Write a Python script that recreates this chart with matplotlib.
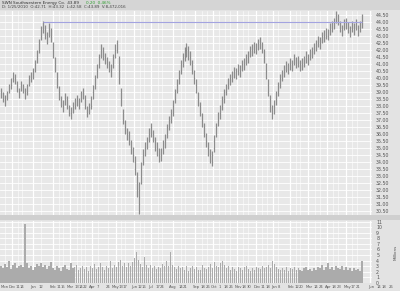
import numpy as np
import matplotlib.pyplot as plt

# daily bars (price in $, volume in millions)
high = [39.3, 39.0, 38.8, 39.1, 39.6, 40.0, 40.4, 40.3, 39.8, 39.3,
        39.8, 39.6, 39.3, 39.6, 40.2, 40.4, 40.7, 41.3, 42.0, 42.8,
        43.7, 44.1, 43.8, 43.3, 43.9, 43.6, 42.6, 41.5, 40.4, 39.4,
        38.7, 38.4, 38.9, 38.7, 38.1, 37.9, 38.3, 38.6, 38.8, 38.6,
        39.1, 39.3, 38.8, 38.0, 38.2, 38.7, 39.5, 40.2, 41.0, 41.7,
        42.4, 42.2, 41.8, 41.5, 41.2, 41.0, 41.7, 42.4, 42.7, 41.6,
        39.3, 37.8, 37.0, 36.4, 36.2, 35.6, 35.1, 34.4, 33.3, 32.6,
        34.0, 34.9, 35.4, 35.8, 36.4, 36.8, 36.3, 35.8, 35.4, 35.0,
        35.0, 35.6, 36.0, 36.7, 37.3, 37.8, 38.4, 39.2, 39.9, 40.6,
        41.3, 41.8, 42.2, 42.5, 42.3, 41.9, 41.3, 40.6, 39.9, 39.0,
        38.3, 37.5, 36.8, 36.1, 35.4, 34.9, 34.8, 35.9, 36.8, 37.6,
        38.1, 38.7, 39.2, 39.6, 40.0, 40.3, 40.5, 40.8, 40.7, 41.0,
        40.9, 41.3, 41.4, 41.7, 41.9, 42.3, 42.4, 42.6, 42.5, 42.8,
        42.9, 42.6, 42.1, 41.1, 39.9, 38.8, 38.1, 38.4, 39.1, 39.7,
        40.3, 40.6, 40.9, 41.2, 41.1, 41.4, 41.3, 41.7, 41.5, 41.6,
        41.3, 41.4, 41.6, 41.9, 41.7, 42.1, 42.2, 42.5, 42.7, 43.0,
        42.9, 43.3, 43.4, 43.6, 43.5, 43.9, 44.1, 44.3, 44.8, 44.6,
        44.1, 43.8, 44.2, 44.3, 44.0, 43.7, 44.1, 43.9, 44.2, 43.8, 44.1, 44.6]
low = [38.6, 38.3, 38.0, 38.4, 38.9, 39.2, 39.7, 39.6, 39.0, 38.6,
       39.1, 38.9, 38.5, 38.8, 39.4, 39.7, 39.9, 40.4, 41.1, 41.8,
       42.7, 43.2, 42.8, 42.4, 42.9, 42.6, 41.4, 40.4, 39.3, 38.4,
       37.9, 37.6, 38.1, 37.8, 37.3, 37.1, 37.5, 37.8, 38.0, 37.8,
       38.3, 38.5, 37.8, 37.2, 37.4, 37.8, 38.5, 39.2, 40.0, 40.7,
       41.4, 41.3, 41.0, 40.7, 40.4, 40.1, 40.7, 41.4, 41.8, 39.6,
       38.0, 36.7, 36.0, 35.6, 35.2, 34.6, 34.0, 33.1, 31.5, 30.3,
       32.4, 33.8, 34.4, 34.9, 35.4, 35.8, 35.4, 34.8, 34.4, 34.0,
       34.1, 34.6, 35.0, 35.7, 36.3, 36.8, 37.3, 38.2, 38.9, 39.6,
       40.3, 40.8, 41.2, 41.5, 41.3, 40.9, 40.3, 39.6, 38.9, 38.0,
       37.3, 36.5, 35.8, 35.1, 34.4, 33.9, 33.7, 34.7, 35.8, 36.6,
       37.1, 37.7, 38.2, 38.8, 39.2, 39.5, 39.7, 40.0, 39.9, 40.2,
       40.1, 40.5, 40.6, 40.9, 41.1, 41.5, 41.6, 41.8, 41.7, 42.0,
       42.1, 41.8, 41.1, 39.9, 38.7, 37.6, 37.1, 37.4, 38.1, 38.7,
       39.3, 39.8, 40.1, 40.4, 40.3, 40.6, 40.5, 40.9, 40.7, 40.8,
       40.5, 40.6, 40.8, 41.1, 40.9, 41.3, 41.4, 41.7, 41.9, 42.2,
       42.1, 42.5, 42.6, 42.8, 42.7, 43.1, 43.3, 43.5, 43.9, 43.8,
       43.3, 43.0, 43.4, 43.5, 43.2, 42.9, 43.3, 43.1, 43.4, 43.0, 43.3, 43.6]
volume = [3.0, 2.6, 3.4, 2.8, 3.9, 2.5, 3.2, 3.6, 2.7, 3.1,
          3.3, 2.9, 10.5, 3.5, 2.6, 3.0, 2.4, 2.8, 3.4, 3.0,
          3.6, 2.9, 3.3, 2.5, 3.1, 3.8, 2.7, 2.4, 3.0, 2.6,
          2.2, 2.8, 3.2, 2.5, 2.3, 3.6, 2.7, 2.9, 3.3, 2.4,
          2.6, 3.1, 2.5, 2.9, 2.2, 3.0, 2.7, 3.4, 2.5, 2.8,
          3.5, 2.8, 2.4, 3.0, 2.6, 3.9, 2.7, 3.2, 2.9, 3.7,
          4.2, 3.1, 3.5, 2.9, 3.6, 3.0, 3.8, 4.5, 5.5, 4.1,
          3.4, 2.8, 4.7, 3.2, 2.7, 3.3, 2.6, 3.0, 2.5, 2.9,
          2.7, 3.4, 3.0, 3.9, 3.1, 5.6, 3.3, 2.8, 2.5, 3.1,
          2.6, 2.9, 2.4, 3.0, 2.2, 2.7, 3.1, 2.5, 2.8, 2.3,
          2.4, 3.2, 2.7, 2.5, 2.9, 3.4, 2.6, 3.8, 3.0, 2.8,
          3.6, 3.9, 3.2, 2.7, 3.1, 2.4, 2.8, 2.5, 2.2, 2.9,
          2.6, 2.3, 2.8, 3.0, 2.5, 2.2, 2.7, 2.4, 2.9, 2.6,
          2.5, 3.1, 2.7, 2.9, 3.3, 2.6, 4.0, 3.4, 2.8, 2.5,
          2.3, 2.7, 2.4, 2.9, 2.2, 2.6, 2.5, 2.8, 2.3, 2.6,
          2.4, 2.1, 2.6, 2.8, 2.3, 2.5, 2.2, 2.7, 2.4, 2.9,
          2.6, 3.2, 2.4, 2.8, 3.5, 2.5, 2.9, 2.3, 3.1, 2.7,
          2.5, 3.0, 2.4, 2.8, 2.3, 2.6, 2.2, 2.7, 2.4, 2.5, 2.1, 4.0]

resistance = 44.0
resistance_start = 21

# date labels along the bottom (bar index, text)
date_pos = [2, 5.5, 8.5, 10.5, 16, 20, 26, 29, 31, 34.5, 38, 40, 42, 45.5, 48.5, 53.5,
            57.5, 60, 62, 66.5, 69.5, 71.5, 75, 78.5, 80.5, 86, 90, 92, 97.5,
            101, 103.5, 106.5, 109.5, 112.5, 115, 118.5, 121.5, 124, 128, 131, 133.5,
            136.5, 139, 145, 148, 150, 154, 157.5, 160, 163.5, 166.5, 169, 173, 176, 178.5,
            185, 189, 191.5, 195]
date_txt = ["Mon", "Dec", "11", "14", "Jan", "12", "Feb", "11", "15", "Mar", "13", "14", "22",
            "Apr", "7", "24", "May", "13", "17", "Jun", "12", "16", "Jul", "17", "24", "Aug",
            "14", "21", "Sep", "18", "26", "Oct", "1", "18", "26", "Nov", "18", "30", "Dec",
            "11", "18", "Jan", "8", "Feb", "12", "20", "Mar", "14", "24", "Apr", "18", "23",
            "May", "17", "21", "Jun", "14", "18", "26"]

BG = "#e8e8e8"
TXT = "#555555"
FS = 3.4

fig = plt.figure(figsize=(4.0, 2.91), dpi=100)
fig.patch.set_facecolor("#e3e3e3")

W, H = 400, 291
def box(x0, y0, x1, y1):
    return [x0 / W, 1 - y1 / H, (x1 - x0) / W, (y1 - y0) / H]

# header band
hdr = fig.add_axes(box(0, 0, 400, 10))
hdr.set_facecolor("#d5d5d5")
hdr.set_xticks([]); hdr.set_yticks([])
for s in hdr.spines.values():
    s.set_visible(False)
fig.text(2 / W, 1 - 3 / H, "SWN Southwestern Energy Co.  43.89", fontsize=3.0, color="#333333",
         va="center", ha="left")
fig.text(86 / W, 1 - 3 / H, "0.20  0.46%", fontsize=3.0, color="#2e9e2e", va="center", ha="left")
fig.text(2 / W, 1 - 7.5 / H, "D: 1/25/2010  O:42.71  H:43.32  L:42.58  C:43.89  V:8,472,016",
         fontsize=2.9, color="#444444", va="center", ha="left")

xs = np.arange(len(high))
xmax = 186

# price panel
ax = fig.add_axes(box(0, 11, 372, 215))
ax.set_facecolor(BG)
ax.vlines(xs, low, high, color="#8c8c8c", lw=0.9, zorder=3)
ax.hlines(resistance, resistance_start, len(high) - 1, color="#a3a3e0", lw=0.8, zorder=4)
ax.set_xlim(-0.5, xmax)
ax.set_ylim(30.21, 44.79)
price_ticks = np.arange(30.5, 44.6, 0.5)
ax.set_yticks(price_ticks)
ax.set_yticklabels([f"{v:.2f}" for v in price_ticks])

# volume panel
vax = fig.add_axes(box(0, 221, 372, 283))
vax.set_facecolor(BG)
vax.bar(xs, volume, width=0.7, color="#ababab", zorder=3)
vax.set_xlim(-0.5, xmax)
vax.set_ylim(0, 11.1)
vax.set_yticks(range(0, 12))
vax.set_yticklabels([str(v) for v in range(0, 12)])
fig.text(396 / W, 1 - 252 / H, "Millions", rotation=90, fontsize=FS - 0.4, color=TXT,
         ha="center", va="center")

months = {"Dec", "Jan", "Feb", "Mar", "Apr", "May", "Jun", "Jul", "Aug", "Sep", "Oct", "Nov"}
for a in (ax, vax):
    a.yaxis.tick_right()
    a.tick_params(axis="y", length=0, pad=3, labelsize=FS, labelcolor=TXT)
    a.set_xticks([])
    a.grid(axis="y", color="white", lw=0.6, zorder=1)
    for p, t in zip(date_pos, date_txt):
        if p < xmax:
            a.axvline(p, color="white", lw=0.9 if t in months else 0.4, zorder=1)
    for s in a.spines.values():
        s.set_visible(False)

# separator between panels
sep = fig.add_axes(box(0, 215, 400, 220))
sep.set_facecolor("#cfcfcf")
sep.set_xticks([]); sep.set_yticks([])
for s in sep.spines.values():
    s.set_visible(False)

for p, t in zip(date_pos, date_txt):
    fig.text((2 * p + 1) / W, 1 - 287 / H, t, fontsize=2.7, color=TXT, ha="center", va="center")

fig.savefig("out.png", dpi=100, facecolor=fig.get_facecolor())
